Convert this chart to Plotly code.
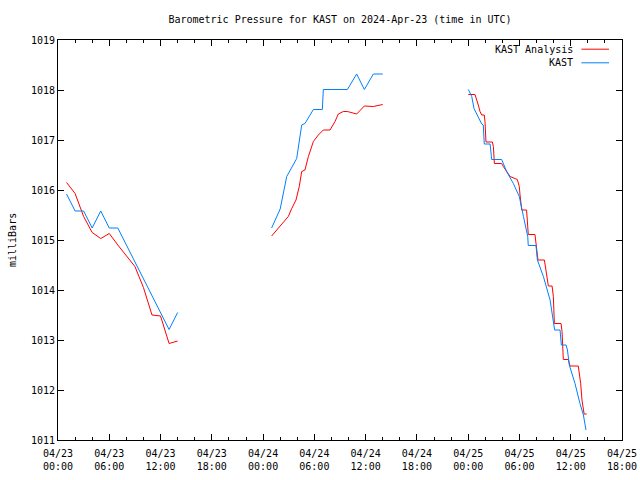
import plotly.graph_objects as go

# ---------------- data ----------------
ana_day1_t = ["2024-04-23 01:00", "2024-04-23 02:00", "2024-04-23 03:00", "2024-04-23 04:00",
              "2024-04-23 05:00", "2024-04-23 06:00", "2024-04-23 07:00", "2024-04-23 08:00",
              "2024-04-23 09:00", "2024-04-23 10:00", "2024-04-23 11:00", "2024-04-23 12:00",
              "2024-04-23 13:00", "2024-04-23 14:00"]
ana_day1_p = [1016.15, 1015.93, 1015.47, 1015.15, 1015.03, 1015.13, 1014.90, 1014.68,
              1014.47, 1014.05, 1013.50, 1013.48, 1012.93, 1012.98]

obs_day1_t = ana_day1_t
obs_day1_p = [1015.92, 1015.58, 1015.58, 1015.24, 1015.58, 1015.24, 1015.24, 1014.90,
              1014.56, 1014.22, 1013.88, 1013.55, 1013.21, 1013.55]

ana_day2_t = ["2024-04-24 01:00", "2024-04-24 02:57", "2024-04-24 03:21", "2024-04-24 03:51",
              "2024-04-24 04:14", "2024-04-24 04:31", "2024-04-24 04:54", "2024-04-24 05:18",
              "2024-04-24 05:53", "2024-04-24 06:28", "2024-04-24 07:03", "2024-04-24 07:50",
              "2024-04-24 08:25", "2024-04-24 08:48", "2024-04-24 09:23", "2024-04-24 09:52",
              "2024-04-24 10:57", "2024-04-24 11:51", "2024-04-24 12:54", "2024-04-24 14:00"]
ana_day2_p = [1015.08, 1015.47, 1015.63, 1015.80, 1016.07, 1016.37, 1016.40, 1016.67,
              1016.97, 1017.10, 1017.20, 1017.20, 1017.37, 1017.52, 1017.57, 1017.57,
              1017.52, 1017.68, 1017.67, 1017.71]

obs_day2_t = ["2024-04-24 01:00", "2024-04-24 02:00", "2024-04-24 02:46", "2024-04-24 03:56",
              "2024-04-24 04:31", "2024-04-24 04:54", "2024-04-24 05:53", "2024-04-24 06:56",
              "2024-04-24 07:03", "2024-04-24 09:52", "2024-04-24 10:57", "2024-04-24 11:51",
              "2024-04-24 12:54", "2024-04-24 14:00"]
obs_day2_p = [1015.24, 1015.62, 1016.27, 1016.63, 1017.30, 1017.33, 1017.61, 1017.61,
              1018.01, 1018.01, 1018.32, 1018.01, 1018.32, 1018.32]

ana_day3_t = ["2024-04-25 00:01", "2024-04-25 00:48", "2024-04-25 01:11", "2024-04-25 01:23",
              "2024-04-25 01:35", "2024-04-25 01:53", "2024-04-25 01:58", "2024-04-25 02:05",
              "2024-04-25 02:50", "2024-04-25 02:57", "2024-04-25 03:04", "2024-04-25 03:55",
              "2024-04-25 04:07", "2024-04-25 04:54", "2024-04-25 05:45", "2024-04-25 05:59",
              "2024-04-25 06:04", "2024-04-25 06:16", "2024-04-25 06:50", "2024-04-25 06:58",
              "2024-04-25 07:02", "2024-04-25 07:49", "2024-04-25 07:56", "2024-04-25 08:01",
              "2024-04-25 08:10", "2024-04-25 08:55", "2024-04-25 09:07", "2024-04-25 09:16",
              "2024-04-25 09:23", "2024-04-25 09:49", "2024-04-25 09:58", "2024-04-25 10:05",
              "2024-04-25 10:52", "2024-04-25 10:59", "2024-04-25 11:08", "2024-04-25 11:43",
              "2024-04-25 11:55", "2024-04-25 12:53", "2024-04-25 13:00", "2024-04-25 13:10",
              "2024-04-25 13:19", "2024-04-25 13:29", "2024-04-25 13:34", "2024-04-25 13:52"]
ana_day3_p = [1017.91, 1017.91, 1017.70, 1017.57, 1017.50, 1017.50, 1017.37, 1016.96,
              1016.96, 1016.87, 1016.53, 1016.53, 1016.47, 1016.27, 1016.21, 1016.07,
              1015.90, 1015.60, 1015.60, 1015.27, 1015.11, 1015.11, 1014.97, 1014.87,
              1014.60, 1014.60, 1014.37, 1014.17, 1014.08, 1014.08, 1013.87, 1013.33,
              1013.33, 1013.17, 1012.61, 1012.61, 1012.48, 1012.48, 1012.33, 1012.13,
              1011.80, 1011.60, 1011.52, 1011.52]

obs_day3_t = ["2024-04-25 00:01", "2024-04-25 00:25", "2024-04-25 00:41", "2024-04-25 00:59",
              "2024-04-25 01:23", "2024-04-25 01:35", "2024-04-25 01:46", "2024-04-25 01:53",
              "2024-04-25 02:34", "2024-04-25 02:45", "2024-04-25 03:55", "2024-04-25 04:30",
              "2024-04-25 05:17", "2024-04-25 05:59", "2024-04-25 06:28", "2024-04-25 06:58",
              "2024-04-25 07:02", "2024-04-25 07:56", "2024-04-25 08:06", "2024-04-25 08:48",
              "2024-04-25 09:35", "2024-04-25 10:03", "2024-04-25 10:07", "2024-04-25 10:45",
              "2024-04-25 10:54", "2024-04-25 11:27", "2024-04-25 11:37", "2024-04-25 11:50",
              "2024-04-25 12:30", "2024-04-25 13:05", "2024-04-25 13:29", "2024-04-25 13:47"]
obs_day3_p = [1018.01, 1017.87, 1017.63, 1017.53, 1017.40, 1017.32, 1017.30, 1016.92,
              1016.92, 1016.61, 1016.61, 1016.37, 1016.13, 1015.87, 1015.47, 1015.07,
              1014.89, 1014.89, 1014.60, 1014.27, 1013.80, 1013.33, 1013.20, 1013.20,
              1012.90, 1012.90, 1012.80, 1012.50, 1012.13, 1011.73, 1011.50, 1011.20]

x_tick_start = "2024-04-23 00:00"
x_range = ["2024-04-23 00:00", "2024-04-25 18:00"]
y_range = [1011, 1019]

series_names = ["KAST Analysis", "KAST"]
series_colors = ["#ff0000", "#0080ff"]


def joined(segs_t, segs_p):
    xs, ys = [], []
    for i, (t, p) in enumerate(zip(segs_t, segs_p)):
        if i:
            xs.append(None)
            ys.append(None)
        xs += list(t)
        ys += list(p)
    return xs, ys


ana_x, ana_y = joined([ana_day1_t, ana_day2_t, ana_day3_t], [ana_day1_p, ana_day2_p, ana_day3_p])
obs_x, obs_y = joined([obs_day1_t, obs_day2_t, obs_day3_t], [obs_day1_p, obs_day2_p, obs_day3_p])

FONT = "DejaVu Sans Mono"

fig = go.Figure()
fig.add_trace(go.Scatter(x=ana_x, y=ana_y, mode="lines", name=series_names[0],
                         line=dict(color=series_colors[0], width=1), connectgaps=False,
                         showlegend=False))
fig.add_trace(go.Scatter(x=obs_x, y=obs_y, mode="lines", name=series_names[1],
                         line=dict(color=series_colors[1], width=1), connectgaps=False,
                         showlegend=False))

# gnuplot-style key: text on the left, line sample on the right
key_y = [0.977, 0.943]
for name, color, ky in zip(series_names, series_colors, key_y):
    fig.add_annotation(x=0.916, y=ky, xref="paper", yref="paper", text=name,
                       showarrow=False, xanchor="right", yanchor="middle",
                       font=dict(family=FONT, size=10, color="black"))
    fig.add_shape(type="line", xref="paper", yref="paper", x0=0.928, x1=0.977,
                  y0=ky, y1=ky, line=dict(color=color, width=1))

# y-axis title placed like gnuplot's ylabel
fig.add_annotation(x=(12 - 58) / 564, y=0.5, xref="paper", yref="paper", text="milliBars",
                   showarrow=False, textangle=-90, xanchor="center", yanchor="middle",
                   font=dict(family=FONT, size=10, color="black"))

fig.update_layout(
    width=640, height=480,
    margin=dict(l=58, r=18, t=40, b=40),
    paper_bgcolor="white", plot_bgcolor="white",
    font=dict(family=FONT, size=10, color="black"),
    title=dict(text="Barometric Pressure for KAST on 2024-Apr-23 (time in UTC)",
               x=(58 + 622) / 2 / 640, xanchor="center", y=1 - 19 / 480, yanchor="middle",
               font=dict(family=FONT, size=10, color="black")),
)

fig.update_xaxes(
    type="date", range=x_range, tick0=x_tick_start, dtick=6 * 3600 * 1000,
    tickformat="%m/%d<br>%H:%M", ticks="inside", ticklen=6, tickcolor="black",
    ticklabelstandoff=4,
    showline=True, linecolor="black", linewidth=1, mirror="ticks",
    showgrid=False, zeroline=False, automargin=False,
    tickfont=dict(family=FONT, size=10, color="black"),
    minor=dict(ticks="inside", ticklen=3, dtick=2 * 3600 * 1000, tick0=x_tick_start,
               tickcolor="black", showgrid=False),
)
fig.update_yaxes(
    range=y_range, dtick=1, tickformat="d", ticks="inside", ticklen=6, tickcolor="black",
    showline=True, linecolor="black", linewidth=1, mirror="ticks",
    showgrid=False, zeroline=False, automargin=False,
    tickfont=dict(family=FONT, size=10, color="black"),
)

fig.write_html("out.html",
               config={"displayModeBar": False},
               post_script="document.body.style.margin='0';document.body.style.overflow='hidden';")
